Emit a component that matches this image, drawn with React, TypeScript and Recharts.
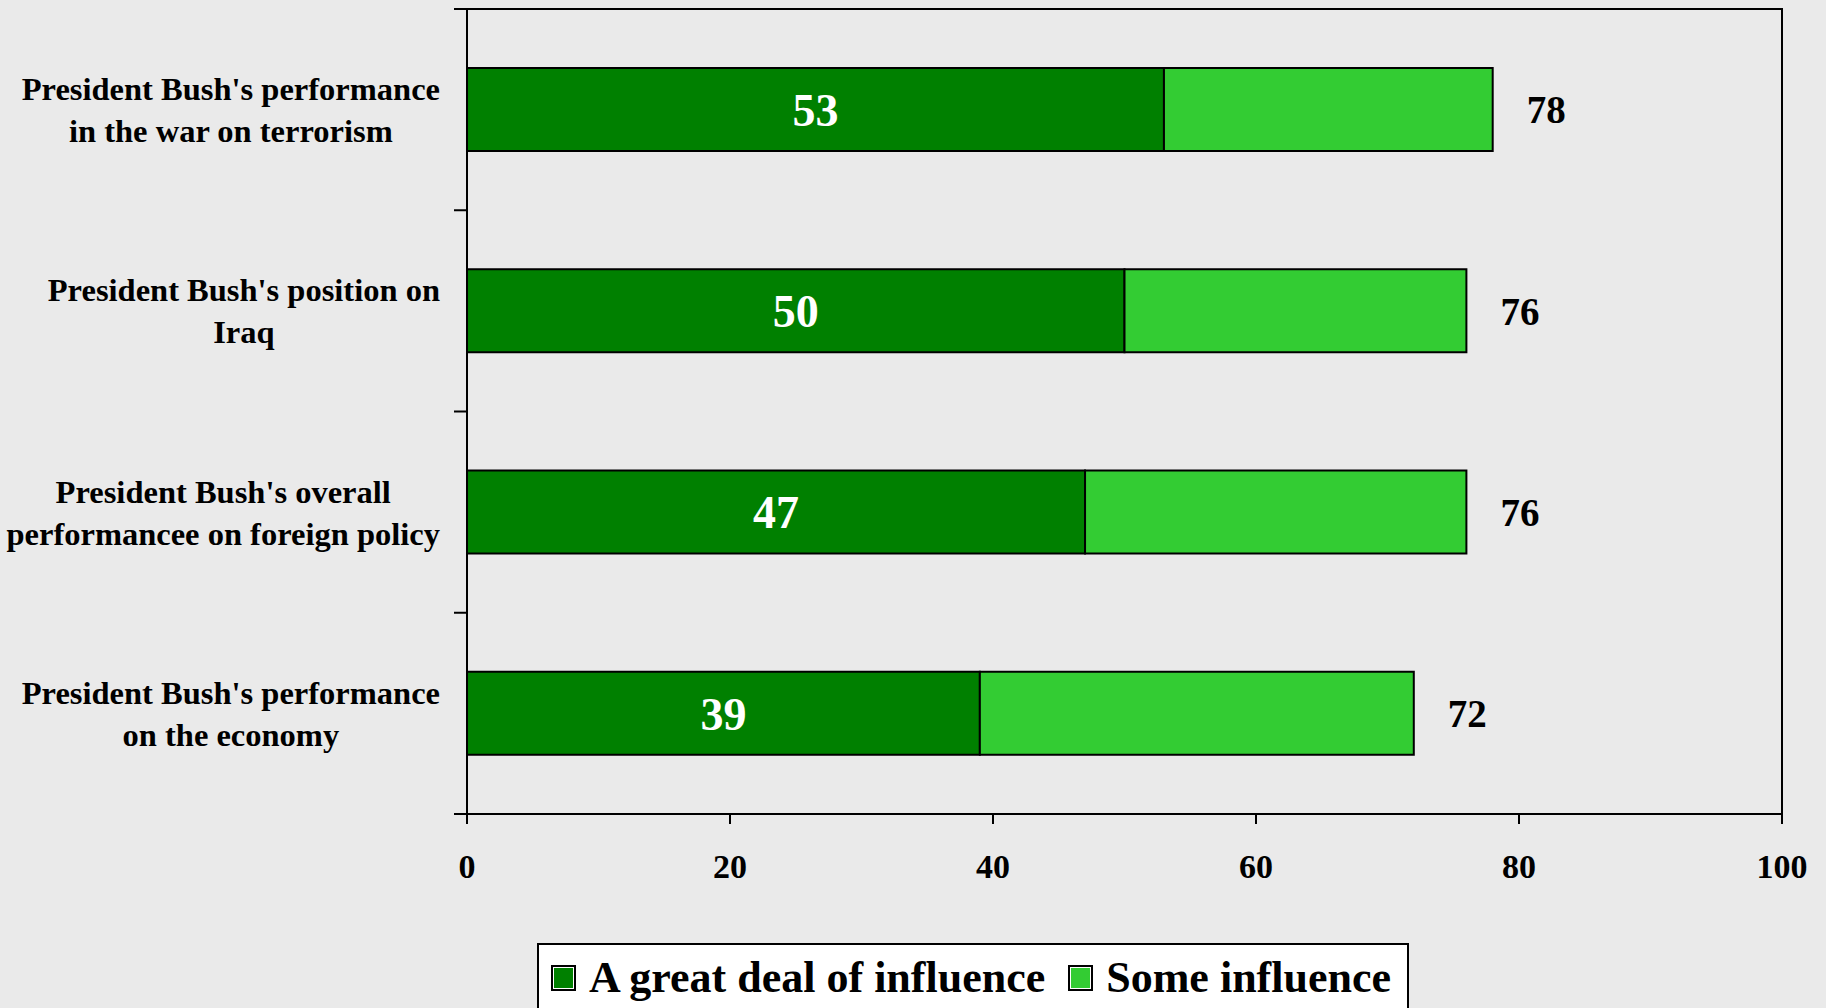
import React from 'react';
import { BarChart, Bar, XAxis, YAxis, LabelList, Legend, ReferenceArea } from 'recharts';

const categories = [
  "President Bush's performance\nin the war on terrorism",
  "President Bush's position on\nIraq",
  "President Bush's overall\nperformancee on foreign policy",
  "President Bush's performance\non the economy",
];
const greatDeal = [53, 50, 47, 39];
const anyInfluence = [78, 76, 76, 72];
const xTicks = [0, 20, 40, 60, 80, 100];

const DARK = '#008000';
const LIGHT = '#33cc33';
const FONT = "'Liberation Serif', 'Times New Roman', serif";
const CAT_SIZE = 32.5;

const data = categories.map((name, i) => ({
  name,
  great: greatDeal[i],
  some: anyInfluence[i] - greatDeal[i],
  total: anyInfluence[i],
}));

let ctx: CanvasRenderingContext2D | null = null;
const textWidth = (s: string) => {
  if (!ctx) ctx = document.createElement('canvas').getContext('2d');
  if (!ctx) return s.length * CAT_SIZE * 0.47;
  ctx.font = `bold ${CAT_SIZE}px ${FONT}`;
  return ctx.measureText(s).width;
};

// label block is right-aligned next to the axis, lines centred inside it
const CategoryTick = (props: any) => {
  const { x, y, payload, index, visibleTicksCount } = props;
  const half = payload.offset ?? 0;
  const lines = String(payload.value).split('\n');
  const gap = 42;
  const first = -((lines.length - 1) * gap) / 2;
  const blockW = Math.max(...lines.map(textWidth));
  const cx = x - 14 - blockW / 2;
  return (
    <g>
      <line x1={x} x2={x + 13} y1={y - half} y2={y - half} stroke="#000" strokeWidth={2} />
      {index === visibleTicksCount - 1 && (
        <line x1={x} x2={x + 13} y1={y + half} y2={y + half} stroke="#000" strokeWidth={2} />
      )}
      <text textAnchor="middle" fontFamily={FONT} fontSize={CAT_SIZE} fontWeight="bold" fill="#000">
        {lines.map((l, i) => (
          <tspan key={i} x={cx} y={y + first + i * gap} dy="0.35em">
            {l}
          </tspan>
        ))}
      </text>
    </g>
  );
};

const LegendBox = () => {
  const items = [
    { label: 'A great deal of influence', color: DARK },
    { label: 'Some influence', color: LIGHT },
  ];
  return (
    <div
      style={{
        display: 'flex',
        alignItems: 'center',
        background: '#fff',
        border: '2px solid #000',
        padding: '11px 16px 22px 12px',
        fontFamily: FONT,
        fontWeight: 'bold',
        fontSize: 44,
        lineHeight: '44px',
        color: '#000',
        whiteSpace: 'nowrap',
      }}
    >
      {items.map((it, i) => (
        <div key={it.label} style={{ display: 'flex', alignItems: 'center', marginLeft: i ? 23 : 0 }}>
          <span
            style={{
              display: 'inline-block',
              width: 21,
              height: 22,
              background: it.color,
              border: '2px solid #000',
              boxShadow: 'inset 0 0 0 1px #fff',
              marginRight: 13,
            }}
          />
          <span>{it.label}</span>
        </div>
      ))}
    </div>
  );
};

export default function App() {
  return (
    <div
      style={{
        position: 'absolute',
        left: 0,
        top: 0,
        width: 1826,
        height: 1008,
        background: '#eaeaea',
        overflow: 'hidden',
      }}
    >
      <BarChart
        width={1826}
        height={1008}
        data={data}
        layout="vertical"
        margin={{ top: 9, right: 44, left: 0, bottom: 0 }}
        barSize={83}
      >
        <ReferenceArea x1={0} x2={100} fill="none" stroke="#000" strokeWidth={2} ifOverflow="visible" />
        <XAxis
          type="number"
          domain={[0, 100]}
          ticks={xTicks}
          height={194}
          tickSize={10}
          tickMargin={30}
          axisLine={{ stroke: '#000', strokeWidth: 2 }}
          tickLine={{ stroke: '#000', strokeWidth: 2 }}
          tick={{ fill: '#000', fontSize: 34, fontWeight: 'bold', fontFamily: FONT }}
          interval={0}
        />
        <YAxis
          type="category"
          dataKey="name"
          width={467}
          tickSize={13}
          tickMargin={0}
          tickLine={false}
          axisLine={{ stroke: '#000', strokeWidth: 2 }}
          tick={<CategoryTick />}
          interval={0}
        />
        <Legend
          verticalAlign="middle"
          layout="horizontal"
          content={<LegendBox />}
          wrapperStyle={{ left: 537, top: 943, width: 'auto', height: 'auto' }}
        />
        <Bar dataKey="great" stackId="a" fill={DARK} stroke="#000" strokeWidth={2} isAnimationActive={false}>
          <LabelList
            dataKey="great"
            position="center"
            fill="#fff"
            fontSize={46}
            fontWeight="bold"
            fontFamily={FONT}
          />
        </Bar>
        <Bar dataKey="some" stackId="a" fill={LIGHT} stroke="#000" strokeWidth={2} isAnimationActive={false}>
          <LabelList
            dataKey="total"
            position="right"
            offset={34}
            fill="#000"
            fontSize={39}
            fontWeight="bold"
            fontFamily={FONT}
          />
        </Bar>
      </BarChart>
    </div>
  );
}
